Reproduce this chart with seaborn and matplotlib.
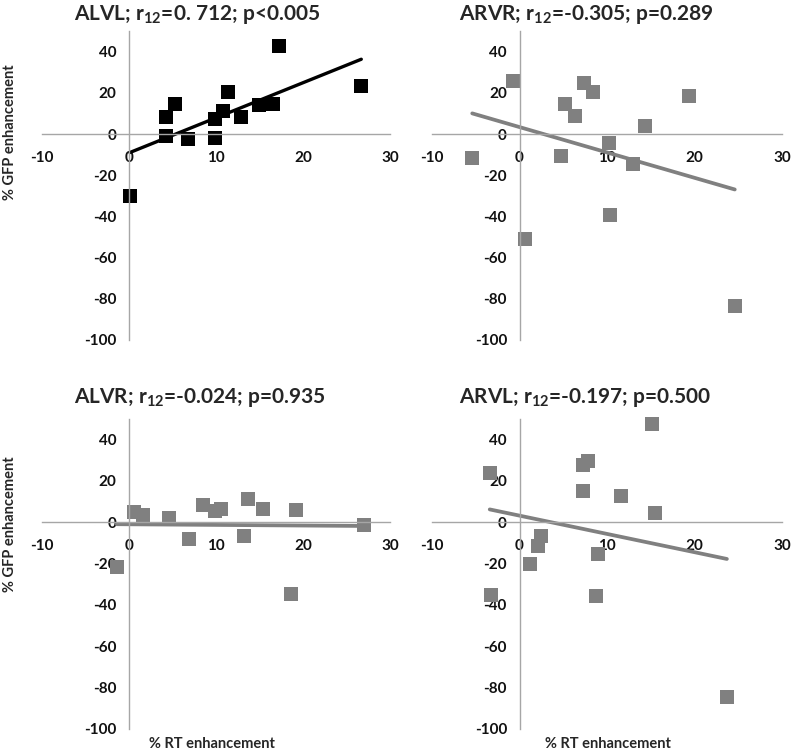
import seaborn as sns
import matplotlib.pyplot as plt

# % RT enhancement (x) and % GFP enhancement (y)
alvl_rt = [0.1, 4.2, 4.2, 5.3, 6.8, 9.9, 9.9, 10.8, 11.4, 12.9, 14.9, 16.5, 17.2, 26.7]
alvl_gfp = [-30.0, 8.4, -1.0, 14.5, -2.6, 7.1, -1.9, 11.1, 20.3, 8.1, 14.0, 14.4, 42.6, 23.5]

arvr_rt = [-5.4, -0.7, 0.6, 4.7, 5.2, 6.3, 7.4, 8.4, 10.2, 10.3, 13.0, 14.3, 19.4, 24.6]
arvr_gfp = [-11.7, 25.7, -51.0, -10.8, 14.6, 8.9, 24.9, 20.2, -4.5, -39.3, -14.4, 4.0, 18.3, -83.5]

alvr_rt = [-1.4, 0.6, 1.6, 4.6, 6.9, 8.5, 9.9, 10.6, 13.2, 13.7, 15.4, 18.6, 19.2, 27.0]
alvr_gfp = [-21.6, 5.0, 3.7, 2.1, -7.9, 8.2, 5.3, 6.3, -6.8, 11.1, 6.6, -34.5, 6.1, -1.3]

arvl_rt = [-3.4, -3.3, 1.2, 2.1, 2.5, 7.2, 7.8, 7.3, 8.7, 9.0, 11.6, 15.1, 15.5, 23.7]
arvl_gfp = [23.9, -35.0, -20.3, -11.3, -6.5, 27.6, 29.5, 15.2, -35.6, -15.5, 12.9, 47.6, 4.7, -84.7]

titles = [r"ALVL; r$_{\mathregular{12}}$=0. 712; p<0.005",
          r"ARVR; r$_{\mathregular{12}}$=-0.305; p=0.289",
          r"ALVR; r$_{\mathregular{12}}$=-0.024; p=0.935",
          r"ARVL; r$_{\mathregular{12}}$=-0.197; p=0.500"]

sns.set_style("white")
plt.rcParams['font.family'] = ['Lato', 'DejaVu Sans']
plt.rcParams['font.weight'] = 'bold'
plt.rcParams['mathtext.default'] = 'regular'
plt.rcParams['axes.unicode_minus'] = False

W, H = 792, 752
fig = plt.figure(figsize=(W / 100, H / 100), dpi=100)

# axes boxes in pixels: (left, top, right, bottom)
boxes = [(42, 31, 390, 340), (432, 31, 782, 340),
         (42, 419, 390, 729), (432, 419, 782, 729)]
data = [(alvl_rt, alvl_gfp, 'black'), (arvr_rt, arvr_gfp, '#808080'),
        (alvr_rt, alvr_gfp, '#808080'), (arvl_rt, arvl_gfp, '#808080')]
title_pos = [(197, 14), (586, 14), (200, 397), (585, 397)]

for i, ((l, t, r, b), (x, y, c)) in enumerate(zip(boxes, data)):
    ax = fig.add_axes([l / W, 1 - b / H, (r - l) / W, (b - t) / H])
    sns.regplot(x=x, y=y, ax=ax, ci=None, marker='s', color=c,
                scatter_kws=dict(s=100, linewidths=0, alpha=1, clip_on=False),
                line_kws=dict(linewidth=2.7 if i else 2.4, color=c))
    ax.set_xlim(-10, 30)
    ax.set_ylim(-100, 50)
    ax.set_xticks([-10, 0, 10, 20, 30])
    ax.set_yticks(range(-100, 41, 20))
    for s in ['top', 'right']:
        ax.spines[s].set_visible(False)
    for s in ['left', 'bottom']:
        ax.spines[s].set_position(('data', 0))
        ax.spines[s].set_color('#a6a6a6')
        ax.spines[s].set_linewidth(1)
    ax.tick_params(direction='out', length=4, width=1, color='#a6a6a6',
                   labelsize=11, labelcolor='#111111', pad=5)
    ax.tick_params(axis='x', pad=8)
    ax.patch.set_alpha(0)
    tx, ty = title_pos[i]
    fig.text(tx / W, 1 - ty / H, titles[i], ha='center', va='center',
             fontsize=15, fontweight='bold')

for yy in (132, 524):
    fig.text(10 / W, 1 - yy / H, "% GFP enhancement", rotation=90,
             ha='center', va='center', fontsize=10.5, fontweight='bold')
for xx in (212, 608):
    fig.text(xx / W, 1 - 744 / H, "% RT enhancement",
             ha='center', va='center', fontsize=10.5, fontweight='bold')

fig.savefig('out.png', dpi=100)
